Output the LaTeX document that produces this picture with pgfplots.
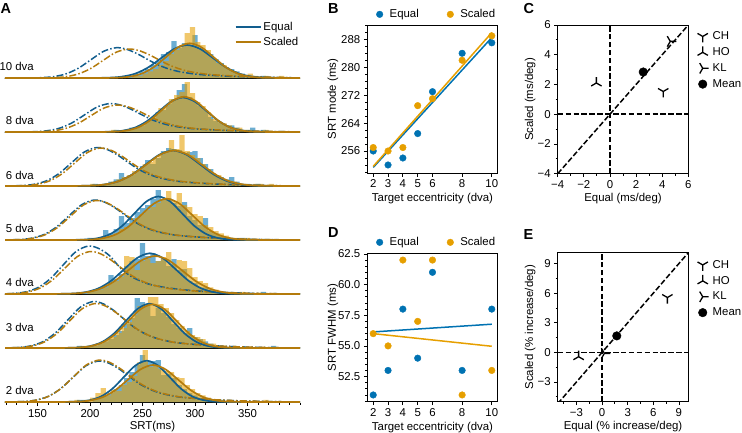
\documentclass[border=0pt]{standalone}
\usepackage{fontspec}
\setmainfont{Liberation Sans}
\usepackage{pgfplots}
\pgfplotsset{compat=1.18}

\definecolor{eqc}{HTML}{0072B2}
\definecolor{scc}{HTML}{E69F00}
\definecolor{eqd}{HTML}{125E8E}
\definecolor{scd}{HTML}{B47B0C}

% tri-shaped markers
\pgfdeclareplotmark{triY}{%
  \pgfpathmoveto{\pgfpointorigin}\pgfpathlineto{\pgfqpoint{0pt}{-\pgfplotmarksize}}%
  \pgfpathmoveto{\pgfpointorigin}\pgfpathlineto{\pgfqpoint{0.866\pgfplotmarksize}{0.5\pgfplotmarksize}}%
  \pgfpathmoveto{\pgfpointorigin}\pgfpathlineto{\pgfqpoint{-0.866\pgfplotmarksize}{0.5\pgfplotmarksize}}%
  \pgfusepathqstroke}
\pgfdeclareplotmark{triA}{%
  \pgfpathmoveto{\pgfpointorigin}\pgfpathlineto{\pgfqpoint{0pt}{\pgfplotmarksize}}%
  \pgfpathmoveto{\pgfpointorigin}\pgfpathlineto{\pgfqpoint{0.866\pgfplotmarksize}{-0.5\pgfplotmarksize}}%
  \pgfpathmoveto{\pgfpointorigin}\pgfpathlineto{\pgfqpoint{-0.866\pgfplotmarksize}{-0.5\pgfplotmarksize}}%
  \pgfusepathqstroke}
\pgfdeclareplotmark{triR}{%
  \pgfpathmoveto{\pgfpointorigin}\pgfpathlineto{\pgfqpoint{\pgfplotmarksize}{0pt}}%
  \pgfpathmoveto{\pgfpointorigin}\pgfpathlineto{\pgfqpoint{-0.5\pgfplotmarksize}{0.866\pgfplotmarksize}}%
  \pgfpathmoveto{\pgfpointorigin}\pgfpathlineto{\pgfqpoint{-0.5\pgfplotmarksize}{-0.866\pgfplotmarksize}}%
  \pgfusepathqstroke}

\newcommand{\tf}{\fontsize{11.4}{13.7}\selectfont}

\pgfplotsset{
  every axis/.append style={
    scale only axis, anchor=south west,
    font=\tf, tick label style={font=\tf}, label style={font=\tf},
    tick align=outside, major tick length=3.5pt, minor tick length=2pt,
    tick style={black, line width=0.8pt},
    axis line style={black, line width=0.8pt},
  },
  hE/.style={const plot mark left, fill=eqc, fill opacity=0.58, draw=none, forget plot},
  hS/.style={const plot mark left, fill=scc, fill opacity=0.58, draw=none, forget plot},
  fE/.style={smooth, eqd, line width=1.7pt},
  fS/.style={smooth, scd, line width=1.7pt},
  dE/.style={smooth, eqd, line width=1.5pt, dash pattern=on 7pt off 2.2pt on 1.5pt off 2.2pt, forget plot},
  dS/.style={smooth, scd, line width=1.5pt, dash pattern=on 7pt off 2.2pt on 1.5pt off 2.2pt, forget plot},
  row/.style={width=295pt, height=52.7pt, xmin=119, xmax=400, ymin=-0.7, ymax=52,
    axis x line*=bottom, axis y line=none, xtick=\empty, ytick=\empty,
    clip mode=individual,
    axis line style={black, line width=0.9pt}},
  pt/.style={only marks, mark=*, mark size=3.3pt},
  scat/.style={width=130.4pt, height=148pt, xmin=1.6, xmax=10.4,
    xtick={2,3,4,5,6,8,10}, xticklabels={2,3,4,5,6,8,10},
    xtick pos=left, ytick pos=left,
    xlabel={Target eccentricity (dva)},
    xlabel style={at={(axis description cs:0.5,-0.171)}, anchor=center},
    ylabel style={at={(axis description cs:-0.263,0.5)}, anchor=center},
    legend columns=2,
    legend image code/.code={\draw[##1] plot coordinates {(0pt,0pt)}; \path[draw=none, fill=none] (-3.5pt,0pt) -- (8pt,0pt);},
    legend style={draw=none, fill=none, anchor=center, font=\tf,
      /tikz/every even column/.append style={column sep=26pt}}},
  cmp/.style={width=130.6pt, xtick pos=left, ytick pos=left,
    ylabel style={at={(axis description cs:-0.21,0.5)}, anchor=center},
    xlabel style={at={(axis description cs:0.5,-0.166)}, anchor=center},
    legend image code/.code={\draw[##1] plot coordinates {(0pt,0pt)}; \path[draw=none, fill=none] (-6pt,0pt) -- (8pt,0pt);},
    legend style={draw=none, fill=none, anchor=west, font=\tf, row sep=2.5pt},
    legend cell align=left},
  dline/.style={black, line width=1.5pt, dash pattern=on 5.5pt off 2.4pt, forget plot},
  sub/.style={only marks, black, line width=1.3pt, mark size=6pt},
}

\begin{document}
\begin{tikzpicture}
\useasboundingbox (0pt,0pt) rectangle (742pt,-432pt);

% ---------- A: SRT distributions per eccentricity ----------
% 10 dva
\begin{axis}[row, at={(5pt,-78.7pt)},
  legend style={at={(0.89,0.839)}, anchor=center, draw=none, fill=none, font=\tf, row sep=1.5pt},
  legend cell align=left,
  legend image code/.code={\draw[#1] (0pt,0pt) -- (25pt,0pt);}]
\addplot[hE] coordinates {(232.5,2.2)(237.5,2.2)(242.5,4.4)(247.5,6.6)(252.5,8.8)(257.5,13)(262.5,17)(267.5,24)(272.5,26)(277.5,37)(282.5,30)(287.5,35)(292.5,33)(297.5,43)(302.5,30)(307.5,26)(312.5,24)(317.5,19)(322.5,15)(327.5,11)(332.5,8.8)(337.5,6.6)(342.5,4.4)(347.5,2.2)(352.5,2.2)(357.5,0)(362.5,2.2)(367.5,0)} \closedcycle;
\addplot[hS] coordinates {(230,2.2)(235,0)(240,2.2)(245,2.2)(250,4.4)(255,6.6)(260,8.8)(265,13)(270,17)(275,24)(280,28)(285,33)(290,45)(295,51)(300,36)(305,33)(310,28)(315,20)(320,15)(325,13)(330,8.8)(335,6.6)(340,4.4)(345,2.2)(350,4.4)(355,2.2)(360,0)(365,2.2)(370,0)(380,2.2)(385,0)} \closedcycle;
\addplot[dE] coordinates {(119,0)(135,0)(153,0.33)(165,1.33)(177,4.09)(189,9.85)(201,18.39)(213,26.72)(225,30.3)(235,28.66)(245,24.24)(255,18.48)(265,13.03)(275,9.09)(285,6.36)(300,3.94)(315,2.73)(335,1.67)(360,0.85)(390,0.3)(400,0)};
\addplot[dS] coordinates {(119,0)(146.5,0)(164.5,0.32)(176.5,1.28)(188.5,3.92)(200.5,9.43)(212.5,17.6)(224.5,25.58)(236.5,29)(246.5,27.43)(256.5,23.2)(266.5,17.69)(276.5,12.47)(286.5,8.7)(296.5,6.09)(311.5,3.77)(326.5,2.61)(346.5,1.6)(371.5,0.81)(400,0)};
\addplot[fE] coordinates {(119,0)(194.1,0)(218.7,0.37)(231,1.45)(243.3,4.46)(255.6,10.71)(267.9,20.01)(280.2,29.12)(292.5,33)(304.8,29.12)(317.1,20.01)(329.4,10.71)(341.7,4.46)(354,1.45)(366.3,0.37)(390.9,0)(400,0)};
\addlegendentry{Equal}
\addplot[fS] coordinates {(119,0)(205,0)(227.5,0.39)(238.75,1.52)(250,4.70)(261.25,11.27)(272.5,21.05)(283.75,30.62)(295,34.7)(306.25,30.62)(317.5,21.05)(328.75,11.27)(340,4.70)(351.25,1.52)(362.5,0.39)(385,0)(400,0)};
\addlegendentry{Scaled}
\node[anchor=east, inner sep=0pt] at (axis cs:146.6,11.3) {10 dva};
\end{axis}

% 8 dva
\begin{axis}[row, at={(5pt,-132.7pt)}]
\addplot[hE] coordinates {(222.5,2.2)(227.5,0)(232.5,2.2)(237.5,4.4)(242.5,4.4)(247.5,6.6)(252.5,11)(257.5,13)(262.5,20)(267.5,22)(272.5,28)(277.5,33)(282.5,42)(287.5,48)(292.5,35)(297.5,31)(302.5,26)(307.5,22)(312.5,15)(317.5,11)(322.5,8.8)(327.5,6.6)(332.5,6.6)(337.5,4.4)(342.5,2.2)(347.5,2.2)(352.5,4.4)(357.5,0)(362.5,2.2)(367.5,0)} \closedcycle;
\addplot[hS] coordinates {(220,2.2)(225,0)(230,2.2)(235,2.2)(240,4.4)(245,6.6)(250,8.8)(255,13)(260,17)(265,24)(270,26)(275,33)(280,37)(285,40)(290,50)(295,39)(300,30)(305,26)(310,20)(315,13)(320,11)(325,8.8)(330,6.6)(335,4.4)(340,4.4)(345,2.2)(350,2.2)(355,0)(365,2.2)(370,0)} \closedcycle;
\addplot[dE] coordinates {(119,0)(129,0)(147,0.31)(159,1.25)(171,3.85)(183,9.26)(195,17.3)(207,25.14)(219,28.5)(229,26.96)(239,22.8)(249,17.39)(259,12.26)(269,8.55)(279,5.99)(294,3.71)(309,2.57)(329,1.57)(354,0.8)(384,0.29)(400,0)};
\addplot[dS] coordinates {(119,0)(135,0)(153,0.3)(165,1.19)(177,3.65)(189,8.78)(201,16.39)(213,23.81)(225,27)(235,25.54)(245,21.6)(255,16.47)(265,11.61)(275,8.1)(285,5.67)(300,3.51)(315,2.43)(335,1.49)(360,0.76)(390,0.27)(400,0)};
\addplot[fE, forget plot] coordinates {(119,0)(198.5,0)(221,0.38)(232.25,1.52)(243.5,4.67)(254.75,11.2)(266,20.92)(277.25,30.45)(288.5,34.5)(299.75,30.45)(311,20.92)(322.25,11.2)(333.5,4.67)(344.75,1.52)(356,0.38)(378.5,0)(400,0)};
\addplot[fS, forget plot] coordinates {(119,0)(202.7,0)(224.4,0.39)(235.25,1.55)(246.1,4.78)(256.95,11.46)(267.8,21.41)(278.65,31.15)(289.5,35.3)(300.35,31.15)(311.2,21.41)(322.05,11.46)(332.9,4.78)(343.75,1.55)(354.6,0.39)(376.3,0)(400,0)};
\node[anchor=east, inner sep=0pt] at (axis cs:146.6,11.7) {8 dva};
\end{axis}

% 6 dva
\begin{axis}[row, at={(5pt,-186.7pt)}]
\addplot[hE] coordinates {(202.5,2.2)(207.5,0)(212.5,2.2)(217.5,4.4)(222.5,6.6)(227.5,13)(232.5,8.8)(237.5,11)(242.5,15)(247.5,20)(252.5,26)(257.5,22)(262.5,28)(267.5,35)(272.5,38)(277.5,37)(282.5,36)(287.5,33)(292.5,34)(297.5,35)(302.5,28)(307.5,22)(312.5,17)(317.5,11)(322.5,8.8)(327.5,6.6)(332.5,8.8)(337.5,4.4)(342.5,2.2)(347.5,2.2)(352.5,0)(357.5,2.2)(362.5,0)} \closedcycle;
\addplot[hS] coordinates {(200,2.2)(205,0)(210,2.2)(215,2.2)(220,4.4)(225,6.6)(230,8.8)(235,11)(240,15)(245,17)(250,22)(255,24)(260,28)(265,31)(270,35)(275,46)(280,37)(285,51)(290,35)(295,31)(300,28)(305,22)(310,17)(315,13)(320,11)(325,6.6)(330,4.4)(335,4.4)(340,2.2)(345,2.2)(350,0)(355,2.2)(360,2.2)(365,0)(370,2.2)(375,0)} \closedcycle;
\addplot[dE] coordinates {(116.5,0)(134.5,0.42)(146.5,1.69)(158.5,5.2)(170.5,12.51)(182.5,23.37)(194.5,33.96)(206.5,38.5)(216.5,36.42)(226.5,30.8)(236.5,23.49)(246.5,16.56)(256.5,11.55)(266.5,8.09)(281.5,5.01)(296.5,3.47)(316.5,2.12)(341.5,1.08)(371.5,0.39)(400,0)};
\addplot[dS] coordinates {(119.5,0)(137.5,0.42)(149.5,1.67)(161.5,5.13)(173.5,12.35)(185.5,23.07)(197.5,33.52)(209.5,38)(219.5,35.95)(229.5,30.4)(239.5,23.18)(249.5,16.34)(259.5,11.4)(269.5,7.98)(284.5,4.94)(299.5,3.42)(319.5,2.09)(344.5,1.06)(374.5,0.38)(400,0)};
\addplot[fE, forget plot] coordinates {(119,0)(175.4,0)(201.3,0.39)(214.25,1.56)(227.2,4.8)(240.15,11.53)(253.1,21.53)(266.05,31.33)(279,35.5)(291.95,31.33)(304.9,21.53)(317.85,11.53)(330.8,4.8)(343.75,1.56)(356.7,0.39)(382.6,0)(400,0)};
\addplot[fS, forget plot] coordinates {(119,0)(174.8,0)(201.1,0.39)(214.25,1.56)(227.4,4.8)(240.55,11.53)(253.7,21.53)(266.85,31.33)(280,35.5)(293.15,31.33)(306.3,21.53)(319.45,11.53)(332.6,4.8)(345.75,1.56)(358.9,0.39)(385.2,0)(400,0)};
\node[anchor=east, inner sep=0pt] at (axis cs:146.6,11) {6 dva};
\end{axis}

% 5 dva
\begin{axis}[row, at={(5pt,-240.7pt)}]
\addplot[hE] coordinates {(197.5,2.2)(202.5,0)(207.5,2.2)(212.5,10)(217.5,6.6)(222.5,11)(227.5,24)(232.5,17)(237.5,22)(242.5,28)(247.5,32)(252.5,35)(257.5,41)(262.5,50)(267.5,41)(272.5,42)(277.5,37)(282.5,34)(287.5,38)(292.5,24)(297.5,20)(302.5,15)(307.5,22)(312.5,8.8)(317.5,6.6)(322.5,4.4)(327.5,2.2)(332.5,2.2)(337.5,0)(342.5,2.2)(347.5,0)} \closedcycle;
\addplot[hS] coordinates {(202.5,2.2)(207.5,2.2)(212.5,4.4)(217.5,4.4)(222.5,6.6)(227.5,11)(232.5,13)(237.5,17)(242.5,22)(247.5,26)(252.5,30)(257.5,33)(262.5,37)(267.5,41)(272.5,49)(277.5,39)(282.5,47)(287.5,35)(292.5,33)(297.5,26)(302.5,24)(307.5,15)(312.5,13)(317.5,8.8)(322.5,6.6)(327.5,4.4)(332.5,2.2)(337.5,2.2)(342.5,0)(347.5,2.2)(352.5,0)} \closedcycle;
\addplot[dE] coordinates {(114,0)(132,0.44)(144,1.76)(156,5.4)(168,13)(180,24.28)(192,35.28)(204,40)(214,37.84)(224,32)(234,24.4)(244,17.2)(254,12)(264,8.4)(279,5.2)(294,3.6)(314,2.2)(339,1.12)(369,0.4)(400,0)};
\addplot[dS] coordinates {(115.5,0)(133.5,0.43)(145.5,1.74)(157.5,5.33)(169.5,12.84)(181.5,23.98)(193.5,34.84)(205.5,39.5)(215.5,37.37)(225.5,31.6)(235.5,24.1)(245.5,16.99)(255.5,11.85)(265.5,8.3)(280.5,5.14)(295.5,3.56)(315.5,2.17)(340.5,1.11)(370.5,0.4)(400,0)};
\addplot[fE, forget plot] coordinates {(119,0)(173.4,0)(196.3,0.48)(207.75,1.91)(219.2,5.89)(230.65,14.12)(242.1,26.38)(253.55,38.39)(265,43.5)(276.45,38.39)(287.9,26.38)(299.35,14.12)(310.8,5.89)(322.25,1.91)(333.7,0.48)(356.6,0)(400,0)};
\addplot[fS, forget plot] coordinates {(119,0)(176.2,0)(200.4,0.46)(212.5,1.81)(224.6,5.59)(236.7,13.41)(248.8,25.05)(260.9,36.45)(273,41.3)(285.1,36.45)(297.2,25.05)(309.3,13.41)(321.4,5.59)(333.5,1.81)(345.6,0.46)(369.8,0)(400,0)};
\node[anchor=east, inner sep=0pt] at (axis cs:146.6,11.7) {5 dva};
\end{axis}

% 4 dva
\begin{axis}[row, at={(5pt,-294.7pt)}]
\addplot[hE] coordinates {(192.5,2.2)(197.5,2.2)(202.5,4.4)(207.5,6.6)(212.5,8.8)(217.5,19)(222.5,15)(227.5,20)(232.5,28)(237.5,33)(242.5,35)(247.5,51)(252.5,38)(257.5,41)(262.5,33)(267.5,36)(272.5,28)(277.5,35)(282.5,24)(287.5,25)(292.5,13)(297.5,11)(302.5,6.6)(307.5,6.6)(312.5,4.4)(317.5,2.2)(322.5,2.2)(327.5,0)(332.5,2.2)(337.5,0)(362.5,2.2)(367.5,0)} \closedcycle;
\addplot[hS] coordinates {(187.5,2.2)(192.5,0)(197.5,2.2)(202.5,4.4)(207.5,4.4)(212.5,6.6)(217.5,11)(222.5,13)(227.5,17)(232.5,38)(237.5,37)(242.5,24)(247.5,33)(252.5,35)(257.5,31)(262.5,33)(267.5,37)(272.5,42)(277.5,30)(282.5,34)(287.5,33)(292.5,26)(297.5,17)(302.5,13)(307.5,11)(312.5,6.6)(317.5,4.4)(322.5,2.2)(327.5,2.2)(332.5,2.2)(337.5,0)(342.5,2.2)(347.5,0)} \closedcycle;
\addplot[dE] coordinates {(108.5,0)(126.5,0.53)(138.5,2.11)(150.5,6.48)(162.5,15.6)(174.5,29.14)(186.5,42.34)(198.5,48)(208.5,45.41)(218.5,38.4)(228.5,26.5)(238.5,18)(248.5,12.8)(258.5,9.2)(273.5,6.24)(288.5,4.32)(308.5,2.64)(333.5,1.34)(363.5,0.48)(400,0)};
\addplot[dS] coordinates {(110,0)(128,0.47)(140,1.87)(152,5.74)(164,13.81)(176,25.8)(188,37.49)(200,42.5)(210,40.21)(220,34)(230,25.93)(240,18.28)(250,12.75)(260,8.93)(275,5.53)(290,3.83)(310,2.34)(335,1.19)(365,0.43)(400,0)};
\addplot[fE, forget plot] coordinates {(119,0)(158.6,0)(183.2,0.45)(195.5,1.79)(207.8,5.51)(220.1,13.22)(232.4,24.68)(244.7,35.92)(257,40.7)(269.3,35.92)(281.6,24.68)(293.9,13.22)(306.2,5.51)(318.5,1.79)(330.8,0.45)(355.4,0)(400,0)};
\addplot[fS, forget plot] coordinates {(119,0)(156.8,0)(183.1,0.42)(196.25,1.67)(209.4,5.14)(222.55,12.34)(235.7,23.05)(248.85,33.54)(262,38)(275.15,33.54)(288.3,23.05)(301.45,12.34)(314.6,5.14)(327.75,1.67)(340.9,0.42)(367.2,0)(400,0)};
\node[anchor=east, inner sep=0pt] at (axis cs:146.6,11.7) {4 dva};
\end{axis}

% 3 dva
\begin{axis}[row, at={(5pt,-348.7pt)}]
\addplot[hE] coordinates {(187.5,2.2)(192.5,0)(197.5,2.2)(202.5,2.2)(207.5,4.4)(212.5,6.6)(217.5,8.8)(222.5,13)(227.5,17)(232.5,24)(237.5,30)(242.5,50)(247.5,46)(252.5,44)(257.5,32)(262.5,40)(267.5,35)(272.5,31)(277.5,24)(282.5,20)(287.5,15)(292.5,20)(297.5,11)(302.5,8.8)(307.5,6.6)(312.5,4.4)(317.5,2.2)(322.5,2.2)(327.5,0)(332.5,2.2)(337.5,0)(372.5,2.2)(377.5,0)} \closedcycle;
\addplot[hS] coordinates {(190,2.2)(195,2.2)(200,2.2)(205,4.4)(210,6.6)(215,8.8)(220,11)(225,15)(230,20)(235,26)(240,33)(245,42)(250,44)(255,51)(260,51)(265,44)(270,40)(275,35)(280,28)(285,22)(290,17)(295,13)(300,11)(305,8.8)(310,4.4)(315,4.4)(320,2.2)(325,2.2)(330,0)(335,2.2)(340,0)} \closedcycle;
\addplot[dE] coordinates {(113,0)(131,0.51)(143,2.05)(155,6.28)(167,15.11)(179,28.23)(191,41.01)(203,46.5)(213,43.99)(223,37.2)(233,28.37)(243,20)(253,13.95)(263,9.77)(278,6.05)(293,4.19)(313,2.56)(338,1.3)(368,0.47)(400,0)};
\addplot[dS] coordinates {(114.5,0)(132.5,0.49)(144.5,1.96)(156.5,6.01)(168.5,14.46)(180.5,27.01)(192.5,39.25)(204.5,44.5)(214.5,42.1)(224.5,35.6)(234.5,27.15)(244.5,19.14)(254.5,13.35)(264.5,9.35)(279.5,5.79)(294.5,4.01)(314.5,2.45)(339.5,1.25)(369.5,0.45)(400,0)};
\addplot[fE, forget plot] coordinates {(119,0)(166.5,0)(189,0.49)(200.25,1.95)(211.5,5.99)(222.75,14.38)(234,26.87)(245.25,39.09)(256.5,44.3)(267.75,39.09)(279,26.87)(290.25,14.38)(301.5,5.99)(312.75,1.95)(324,0.49)(346.5,0)(400,0)};
\addplot[fS, forget plot] coordinates {(119,0)(165.9,0)(189.3,0.49)(201,1.92)(212.7,5.91)(224.4,14.19)(236.1,26.5)(247.8,38.57)(259.5,43.7)(271.2,38.57)(282.9,26.5)(294.6,14.19)(306.3,5.91)(318,1.92)(329.7,0.49)(353.1,0)(400,0)};
\node[anchor=east, inner sep=0pt] at (axis cs:146.6,20.7) {3 dva};
\end{axis}

% 2 dva (carries the time axis)
\begin{axis}[row, at={(5pt,-402.7pt)},
  xtick={150,200,250,300,350}, xticklabels={150,200,250,300,350},
  minor xtick={120,130,...,400}, xtick pos=left,
  xlabel={SRT(ms)}, xlabel style={at={(axis description cs:0.5,-0.455)}, anchor=center}]
\addplot[hE] coordinates {(187.5,2.2)(192.5,2.2)(197.5,0)(202.5,2.2)(207.5,4.4)(212.5,6.6)(217.5,8.8)(222.5,13)(227.5,17)(232.5,24)(237.5,30)(242.5,37)(247.5,47)(252.5,40)(257.5,41)(262.5,42)(267.5,27)(272.5,28)(277.5,24)(282.5,17)(287.5,13)(292.5,9)(297.5,6.6)(302.5,4.4)(307.5,2.2)(312.5,2.2)(317.5,0)(322.5,2.2)(327.5,0)} \closedcycle;
\addplot[hS] coordinates {(185,2.2)(190,0)(195,2.2)(200,4.4)(205,8.8)(210,14)(215,6.6)(220,12)(225,11)(230,17)(235,20)(240,26)(245,40)(250,52)(255,35)(260,37)(265,33)(270,31)(275,30)(280,25)(285,24)(290,17)(295,13)(300,8.8)(305,6.6)(310,4.4)(315,2.2)(320,2.2)(325,0)(330,2.2)(335,0)(365,2.2)(370,0)} \closedcycle;
\addplot[dE] coordinates {(118,0)(136,0.45)(148,1.8)(160,5.54)(172,13.33)(184,24.89)(196,36.16)(208,41)(218,38.79)(228,32.8)(238,25.01)(248,17.63)(258,12.3)(268,8.61)(283,5.33)(298,3.69)(318,2.26)(343,1.15)(373,0.41)(400,0)};
\addplot[dS] coordinates {(118.5,0)(136.5,0.46)(148.5,1.85)(160.5,5.67)(172.5,13.65)(184.5,25.49)(196.5,37.04)(208.5,42)(218.5,39.73)(228.5,33.6)(238.5,25.62)(248.5,18.06)(258.5,12.6)(268.5,8.82)(283.5,5.46)(298.5,3.78)(318.5,2.31)(343.5,1.18)(373.5,0.42)(400,0)};
\addplot[fE, forget plot] coordinates {(119,0)(167.2,0)(188.9,0.46)(199.75,1.81)(210.6,5.59)(221.45,13.41)(232.3,25.05)(243.15,36.45)(254,41.3)(264.85,36.45)(275.7,25.05)(286.55,13.41)(297.4,5.59)(308.25,1.81)(319.1,0.46)(340.8,0)(400,0)};
\addplot[fS, forget plot] coordinates {(119,0)(164.8,0)(188.6,0.41)(200.5,1.62)(212.4,5.01)(224.3,12.01)(236.2,22.44)(248.1,32.65)(260,37)(271.9,32.65)(283.8,22.44)(295.7,12.01)(307.6,5.01)(319.5,1.62)(331.4,0.41)(355.2,0)(400,0)};
\node[anchor=east, inner sep=0pt] at (axis cs:146.6,11.3) {2 dva};
\end{axis}

% ---------- B: SRT mode vs eccentricity ----------
\begin{axis}[scat, at={(367.3pt,-173pt)},
  ymin=249.7, ymax=292.1,
  ytick={256,264,272,280,288}, yticklabels={256,264,272,280,288},
  minor ytick={250,252,...,292},
  ylabel={SRT mode (ms)},
  legend style={at={(0.532,1.072)}}]
\addplot[pt, eqc] coordinates {(2,256)(3,252)(4,254)(5,261)(6,273)(8,284)(10,287)};
\addlegendentry{Equal}
\addplot[pt, scc] coordinates {(2,257)(3,256)(4,257)(5,269)(6,271)(8,282)(10,289)};
\addlegendentry{Scaled}
\addplot[eqc, line width=1.5pt, forget plot] coordinates {(2,251.3)(10,288.5)};
\addplot[scc, line width=1.5pt, forget plot] coordinates {(2,251.6)(10,289.9)};
\end{axis}

% ---------- D: SRT FWHM vs eccentricity ----------
\begin{axis}[scat, at={(367.3pt,-401.7pt)}, height=148.4pt,
  ymin=50.45, ymax=62.55,
  ytick={52.5,55,57.5,60,62.5}, yticklabels={52.5,55.0,57.5,60.0,62.5},
  minor ytick={50.5,51,...,62.5},
  ylabel={SRT FWHM (ms)},
  legend style={at={(0.532,1.074)}}]
\addplot[pt, eqc] coordinates {(2,51)(3,53)(4,58)(5,54)(6,61)(8,53)(10,58)};
\addlegendentry{Equal}
\addplot[pt, scc] coordinates {(2,56)(3,55)(4,62)(5,57)(6,62)(8,51)(10,53)};
\addlegendentry{Scaled}
\addplot[eqc, line width=1.5pt, forget plot] coordinates {(2,56.14)(10,56.77)};
\addplot[scc, line width=1.5pt, forget plot] coordinates {(2,56.0)(10,54.97)};
\end{axis}

% ---------- C: slopes, ms/deg ----------
\begin{axis}[cmp, at={(557.7pt,-173.7pt)}, height=148.7pt,
  xmin=-4, xmax=6, ymin=-4, ymax=6,
  xtick={-4,-2,0,2,4,6}, xticklabels={−4,−2,0,2,4,6},
  ytick={-4,-2,0,2,4,6}, yticklabels={−4,−2,0,2,4,6},
  minor xtick={-3,-1,1,3,5}, minor ytick={-3,-1,1,3,5},
  xlabel={Equal (ms/deg)}, ylabel={Scaled (ms/deg)},
  legend style={at={(1.04,0.763)}}]
\addplot[dline] coordinates {(-4,-4)(6,6)};
\addplot[dline] coordinates {(0,-4)(0,6)};
\addplot[dline] coordinates {(-4,0)(6,0)};
\addplot[sub, mark=triY] coordinates {(4.08,1.53)};
\addlegendentry{CH}
\addplot[sub, mark=triA] coordinates {(-1.04,2.1)};
\addlegendentry{HO}
\addplot[sub, mark=triR] coordinates {(4.62,4.9)};
\addlegendentry{KL}
\addplot[only marks, black, mark=*, mark size=4.3pt] coordinates {(2.55,2.84)};
\addlegendentry{Mean}
\end{axis}

% ---------- E: slopes, % increase/deg ----------
\begin{axis}[cmp, at={(557.7pt,-401.7pt)}, height=149pt,
  xmin=-5.2, xmax=10.1, ymin=-5, ymax=10.1,
  xtick={-3,0,3,6,9}, xticklabels={−3,0,3,6,9},
  ytick={-3,0,3,6,9}, yticklabels={−3,0,3,6,9},
  minor xtick={-4.5,-1.5,1.5,4.5,7.5}, minor ytick={-4.5,-1.5,1.5,4.5,7.5},
  xlabel={Equal (\% increase/deg)}, ylabel={Scaled (\% increase/deg)},
  legend style={at={(1.04,0.758)}}]
\addplot[dline] coordinates {(-5.2,-5.2)(10.1,10.1)};
\addplot[dline] coordinates {(0,-5)(0,10.1)};
\addplot[dline] coordinates {(-5.2,0)(10.1,0)};
\addplot[sub, mark=triY] coordinates {(7.65,5.56)};
\addlegendentry{CH}
\addplot[sub, mark=triA] coordinates {(-2.75,-0.44)};
\addlegendentry{HO}
\addplot[sub, mark=triR] coordinates {(0.27,-0.1)};
\addlegendentry{KL}
\addplot[only marks, black, mark=*, mark size=4.3pt] coordinates {(1.72,1.67)};
\addlegendentry{Mean}
\end{axis}

% panel letters
\begin{scope}[every node/.style={inner sep=0pt, anchor=west, font=\bfseries\fontsize{14.5}{17}\selectfont}]
\node at (0.5pt,-8.5pt) {A};
\node at (328pt,-8.5pt) {B};
\node at (523.3pt,-8.5pt) {C};
\node at (328pt,-233pt) {D};
\node at (523.3pt,-235pt) {E};
\end{scope}
\end{tikzpicture}
\end{document}
